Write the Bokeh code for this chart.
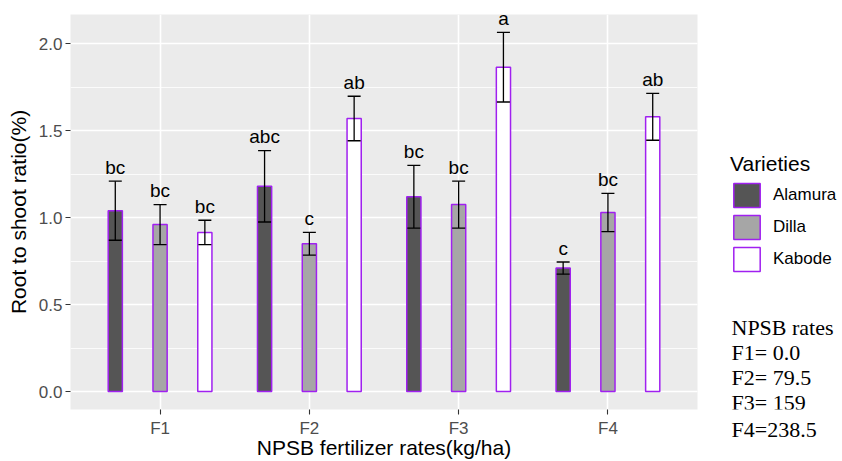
from bokeh.plotting import figure
from bokeh.layouts import row
from bokeh.core.properties import value
from bokeh.models import (ColumnDataSource, Range1d, FixedTicker, SingleIntervalTicker,
                          PrintfTickFormatter, Whisker, TeeHead, Legend, LegendItem, Label, Title)
from bokeh.transform import dodge
from bokeh.embed import file_html
from bokeh.resources import INLINE

# ---------------- data ----------------
rates = ["F1", "F2", "F3", "F4"]
rate_pos = [1, 2, 3, 4]
varieties = ["Alamura", "Dilla", "Kabode"]

alamura_mean = [1.04, 1.18, 1.12, 0.71]
alamura_se = [0.17, 0.205, 0.18, 0.035]
alamura_letters = ["bc", "abc", "bc", "c"]

dilla_mean = [0.96, 0.85, 1.075, 1.03]
dilla_se = [0.115, 0.065, 0.135, 0.11]
dilla_letters = ["bc", "c", "bc", "bc"]

kabode_mean = [0.915, 1.57, 1.865, 1.58]
kabode_se = [0.07, 0.128, 0.2, 0.135]
kabode_letters = ["bc", "ab", "a", "ab"]

note_lines = ["NPSB rates", "F1= 0.0", "F2= 79.5", "F3= 159", "F4=238.5"]

# ---------------- styles ----------------
fills = ["#555555", "#A6A6A6", "#FFFFFF"]
offsets = [-0.3, 0.0, 0.3]
outline = "#A020F0"
SANS = "Liberation Sans"
SERIF = "Liberation Serif"

p = figure(width=705, height=461, output_backend="svg", toolbar_location=None,
           x_range=Range1d(0.4, 4.6), y_range=Range1d(-0.103, 2.168),
           min_border_left=70, min_border_right=8, min_border_top=14, min_border_bottom=52)
p.background_fill_color = "#EBEBEB"
p.border_fill_color = "white"
p.outline_line_color = None

p.xaxis.ticker = FixedTicker(ticks=rate_pos)
p.xaxis.major_label_overrides = {pos: lab for pos, lab in zip(rate_pos, rates)}
p.yaxis.ticker = SingleIntervalTicker(interval=0.5, num_minor_ticks=2)
p.yaxis.formatter = PrintfTickFormatter(format="%.1f")

for ax in (p.xaxis[0], p.yaxis[0]):
    ax.axis_line_color = None
    ax.major_tick_line_color = "#333333"
    ax.major_tick_line_width = 1.1
    ax.major_tick_out = 5
    ax.major_tick_in = 0
    ax.minor_tick_line_color = None
    ax.major_label_text_color = "#4D4D4D"
    ax.major_label_text_font = SANS
    ax.major_label_text_font_size = "17px"
    ax.axis_label_text_font = SANS
    ax.axis_label_text_font_size = "21px"
    ax.axis_label_text_font_style = "normal"
    ax.axis_label_text_color = "black"

p.xaxis.axis_label = "NPSB fertilizer rates(kg/ha)"
p.xaxis.major_label_standoff = 4
p.xaxis.axis_label_standoff = -5
p.yaxis.axis_label = "Root to shoot ratio(%)"
p.yaxis.major_label_standoff = 3
p.yaxis.axis_label_standoff = 6

p.xgrid.grid_line_color = "white"
p.xgrid.grid_line_width = 1.6
p.ygrid.grid_line_color = "white"
p.ygrid.grid_line_width = 1.6
p.ygrid.minor_grid_line_color = "white"
p.ygrid.minor_grid_line_width = 0.8

# side panel holding the legend and the note
p2 = figure(width=137, height=461, output_backend="svg", toolbar_location=None,
            x_range=Range1d(0, 1), y_range=Range1d(0, 1),
            x_axis_location=None, y_axis_location=None,
            min_border_left=0, min_border_right=0, min_border_top=0, min_border_bottom=0)
p2.grid.visible = False
p2.outline_line_color = None
p2.background_fill_color = "white"
p2.border_fill_color = "white"

means = [alamura_mean, dilla_mean, kabode_mean]
ses = [alamura_se, dilla_se, kabode_se]
letters = [alamura_letters, dilla_letters, kabode_letters]

items = []
for name, m, s, let, fc, off in zip(varieties, means, ses, letters, fills, offsets):
    src = ColumnDataSource(dict(
        x=rate_pos, rate=rates, mean=m, se=s, letter=let,
        lower=[a - b for a, b in zip(m, s)],
        upper=[a + b for a, b in zip(m, s)],
    ))
    p.vbar(x=dodge("x", off), top="mean", bottom=0, width=0.095, source=src,
           fill_color=fc, line_color=outline, line_width=1.5)
    w = Whisker(base=dodge("x", off), upper="upper", lower="lower", source=src,
                line_color="black", line_width=1.3, level="annotation",
                upper_head=TeeHead(size=13, line_color="black", line_width=1.3),
                lower_head=TeeHead(size=13, line_color="black", line_width=1.3))
    p.add_layout(w)
    p.text(x=dodge("x", off), y="upper", text="letter", source=src,
           text_align="center", text_baseline="alphabetic", y_offset=-14,
           text_font=value(SANS), text_font_size="19px", text_color="black")
    # hidden legend proxy in the side panel
    r = p2.vbar(x=dodge("x", off), top="mean", bottom=0, width=0.095, source=src,
                fill_color=fc, line_color=outline, line_width=1.5, visible=False)
    items.append(LegendItem(label=name, renderers=[r]))

legend = Legend(items=items, location=(25, 135), title="Varieties",
                title_text_font=SANS, title_text_font_size="21px", title_text_color="black",
                title_text_font_style="normal", title_standoff=4,
                label_text_font=SANS, label_text_font_size="17px", label_text_color="black",
                glyph_width=33, glyph_height=30, label_height=30, spacing=2, label_standoff=10,
                padding=0, margin=0, background_fill_alpha=0, border_line_color=None,
                inactive_fill_alpha=0)
p2.add_layout(legend, "center")

for i, line in enumerate(note_lines[:-1]):
    p2.add_layout(Label(x=26, y=82 - i * 25, x_units="screen", y_units="screen", text=line,
                        text_font=SERIF, text_font_size="22px",
                        text_color="black", text_baseline="alphabetic"))
p2.add_layout(Title(text=note_lines[-1], align="left", offset=26, vertical_align="top",
                    standoff=14, text_font=SERIF, text_font_size="22px",
                    text_font_style="normal", text_color="black"), "below")

open("out.html", "w").write(file_html(row(p, p2), INLINE))
